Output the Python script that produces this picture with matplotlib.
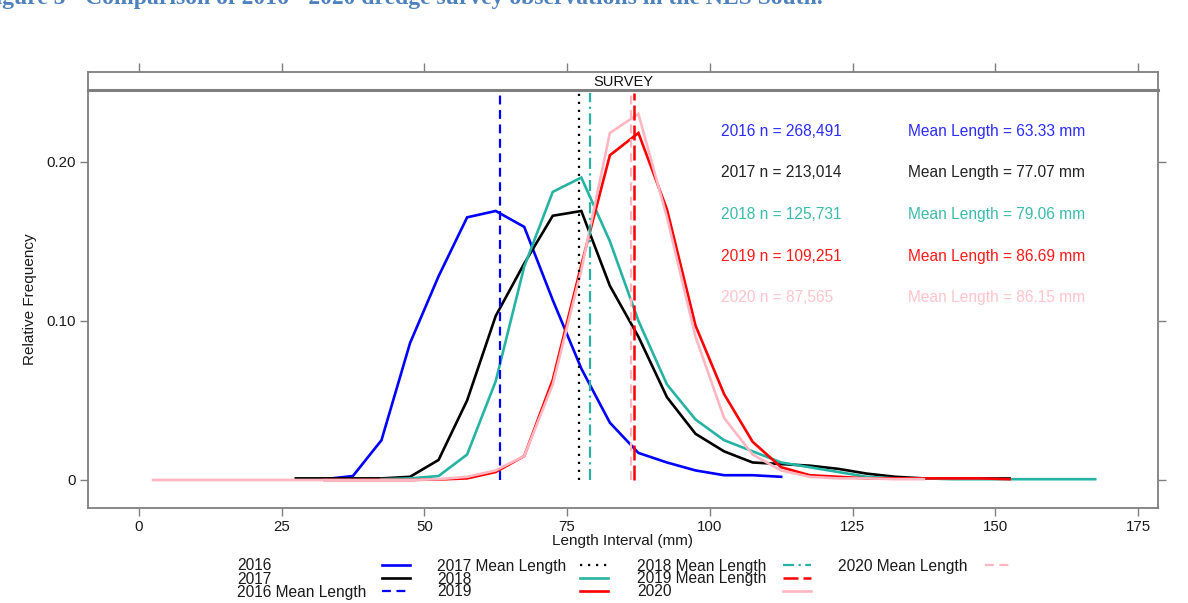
import matplotlib
matplotlib.use("Agg")
import matplotlib.pyplot as plt
from matplotlib.lines import Line2D

plt.rcParams['font.family'] = ['Liberation Sans', 'DejaVu Sans']

# ---- data -------------------------------------------------------------
years = ['2016', '2017', '2018', '2019', '2020']
sample_sizes = ['268,491', '213,014', '125,731', '109,251', '87,565']
mean_lengths = [63.33, 77.07, 79.06, 86.69, 86.15]

len_2016 = [32.5, 37.5, 42.5, 47.5, 52.5, 57.5, 62.5, 67.5, 72.5, 77.5, 82.5,
            87.5, 92.5, 97.5, 102.5, 107.5, 112.5]
freq_2016 = [0.0005, 0.0025, 0.025, 0.086, 0.128, 0.165, 0.169, 0.159, 0.113,
             0.070, 0.036, 0.017, 0.011, 0.006, 0.003, 0.003, 0.002]

len_2017 = [27.5, 32.5, 37.5, 42.5, 47.5, 52.5, 57.5, 62.5, 67.5, 72.5, 77.5,
            82.5, 87.5, 92.5, 97.5, 102.5, 107.5, 112.5, 117.5, 122.5, 127.5,
            132.5, 137.5, 142.5, 147.5, 152.5]
freq_2017 = [0.001, 0.001, 0.001, 0.001, 0.002, 0.0126, 0.050, 0.103, 0.136,
             0.166, 0.169, 0.122, 0.090, 0.052, 0.029, 0.018, 0.011, 0.010,
             0.009, 0.007, 0.004, 0.002, 0.001, 0.001, 0.001, 0.001]

len_2018 = [42.5, 47.5, 52.5, 57.5, 62.5, 67.5, 72.5, 77.5, 82.5, 87.5, 92.5,
            97.5, 102.5, 107.5, 112.5, 117.5, 122.5, 127.5, 132.5, 137.5,
            142.5, 147.5, 152.5, 157.5, 162.5, 167.5]
freq_2018 = [0.0005, 0.001, 0.0025, 0.016, 0.062, 0.134, 0.181, 0.190, 0.150,
             0.100, 0.060, 0.038, 0.025, 0.018, 0.011, 0.008, 0.005, 0.002,
             0.001, 0.001, 0.0005, 0.0005, 0.0005, 0.0005, 0.0005, 0.0005]

len_2019 = [32.5, 37.5, 42.5, 47.5, 52.5, 57.5, 62.5, 67.5, 72.5, 77.5, 82.5,
            87.5, 92.5, 97.5, 102.5, 107.5, 112.5, 117.5, 122.5, 127.5, 132.5,
            137.5, 142.5, 147.5, 152.5]
freq_2019 = [0.0, 0.0, 0.0, 0.0, 0.0003, 0.001, 0.005, 0.015, 0.063, 0.135,
             0.204, 0.218, 0.170, 0.097, 0.054, 0.024, 0.008, 0.003, 0.002,
             0.001, 0.001, 0.001, 0.001, 0.001, 0.0005]

len_2020 = [2.5, 7.5, 12.5, 17.5, 22.5, 27.5, 32.5, 37.5, 42.5, 47.5, 52.5,
            57.5, 62.5, 67.5, 72.5, 77.5, 82.5, 87.5, 92.5, 97.5, 102.5, 107.5,
            112.5, 117.5, 122.5, 127.5, 132.5, 137.5]
freq_2020 = [0.0, 0.0, 0.0, 0.0, 0.0, 0.0, 0.0, 0.0, 0.0, 0.0, 0.0005, 0.002,
             0.006, 0.015, 0.060, 0.132, 0.218, 0.230, 0.165, 0.090, 0.039,
             0.016, 0.006, 0.002, 0.001, 0.001, 0.0005, 0.0005]

lengths = [len_2016, len_2017, len_2018, len_2019, len_2020]
freqs = [freq_2016, freq_2017, freq_2018, freq_2019, freq_2020]

# ---- styles -----------------------------------------------------------
colors = ['#0000ff', '#000000', '#26b3a3', '#ff0000', '#ffb6c1']
text_colors = ['#2b2bff', '#222222', '#3bbbab', '#ff1a1a', '#ffc4cc']
mean_styles = [(0, (4, 2.5)), (0, (1, 2.6)), (0, (5, 2, 1, 2)),
               (0, (6, 2)), (0, (4, 2.5))]
mean_widths = [1.6, 1.6, 1.6, 1.8, 1.6]
GRID = '#7f7f7f'
INK = '#1a1a1a'

fig = plt.figure(figsize=(11.88, 6.03), dpi=100)
W, H = 1188.0, 603.0
ax = fig.add_axes([88 / W, 1 - 508 / H, (1158 - 88) / W, (508 - 90) / H])
strip = fig.add_axes([88 / W, 1 - 90 / H, (1158 - 88) / W, 18 / H], sharex=ax)

# frequency curves
for yr, x, y, c in zip(years, lengths, freqs, colors):
    ax.plot(x, y, color=c, lw=1.9, solid_joinstyle='miter')

# mean-length reference lines (pink first so the red one stays on top)
for i in [0, 1, 2, 4, 3]:
    ax.vlines(mean_lengths[i], 0, 0.243, colors=colors[i],
              linestyles=mean_styles[i], lw=mean_widths[i])

ax.set_xlim(-8.9, 178.5)
ax.set_ylim(-0.0176, 0.245)
ax.set_xticks([0, 25, 50, 75, 100, 125, 150, 175])
ax.set_yticks([0, 0.10, 0.20])
ax.set_yticklabels(['0', '0.10', '0.20'])
ax.tick_params(axis='both', direction='out', length=5.5, width=1.0,
               color=GRID, labelsize=10.8, labelcolor=INK)
ax.tick_params(axis='y', right=True, pad=3)
ax.tick_params(axis='x', top=False, pad=3)
for s in ax.spines.values():
    s.set_color(GRID)
    s.set_linewidth(1.3)
ax.set_xlabel('Length Interval (mm)', fontsize=11, labelpad=0, color=INK)
ax.set_ylabel('Relative Frequency', fontsize=11, labelpad=7, color=INK)

# panel strip
strip.set_ylim(0, 1)
strip.tick_params(axis='x', top=True, bottom=False, labeltop=False,
                  labelbottom=False, direction='out', length=6.5,
                  width=1.0, color=GRID)
strip.tick_params(axis='y', left=False, labelleft=False)
for s in strip.spines.values():
    s.set_color(GRID)
    s.set_linewidth(1.3)
strip.spines['bottom'].set_linewidth(2.2)
strip.text(0.5, 0.45, 'SURVEY', transform=strip.transAxes, ha='center',
           va='center', fontsize=10.5, color='#111111')

# sample size and mean annotations
for i, yr in enumerate(years):
    yv = 0.219 - i * 0.0261
    ax.text(102.0, yv, f'{yr} n = {sample_sizes[i]}', color=text_colors[i],
            fontsize=11.2, va='center', ha='left')
    ax.text(134.7, yv, f'Mean Length = {mean_lengths[i]:.2f} mm',
            color=text_colors[i], fontsize=11.2, va='center', ha='left')

# key: labels left-aligned with the line sample to their right,
# filled column by column, three rows per column
entries = [
    ('2016', colors[0], '-', 1.9),
    ('2017', colors[1], '-', 1.9),
    ('2016 Mean Length', colors[0], mean_styles[0], mean_widths[0]),
    ('2017 Mean Length', colors[1], mean_styles[1], mean_widths[1]),
    ('2018', colors[2], '-', 1.9),
    ('2019', colors[3], '-', 1.9),
    ('2018 Mean Length', colors[2], mean_styles[2], mean_widths[2]),
    ('2019 Mean Length', colors[3], mean_styles[3], mean_widths[3]),
    ('2020', colors[4], '-', 1.9),
    ('2020 Mean Length', colors[4], mean_styles[4], mean_widths[4]),
]
col_x = [237, 437, 637, 838]
key_x = [382, 580, 783, 985]
row_y = [565, 578, 591]
for k, (lab, c, ls, lw) in enumerate(entries):
    col, row = divmod(k, 3)
    yc = row_y[row]
    fig.text(col_x[col] / W, 1 - (yc + 5.5) / H, lab, ha='left',
             va='baseline', fontsize=11.2, color=INK)
    fig.add_artist(Line2D([key_x[col] / W, (key_x[col] + 28) / W],
                          [1 - yc / H, 1 - yc / H], color=c, ls=ls, lw=lw,
                          transform=fig.transFigure))

# figure caption
fig.text(823 / W, 1 - 4 / H,
         'Figure 5 - Comparison of 2016 - 2020 dredge survey observations in the NLS South.',
         ha='right', va='baseline', fontsize=17, fontweight='bold',
         family=['Liberation Serif', 'DejaVu Serif'], color='#4f81bd')

fig.savefig('out.png', dpi=100)
